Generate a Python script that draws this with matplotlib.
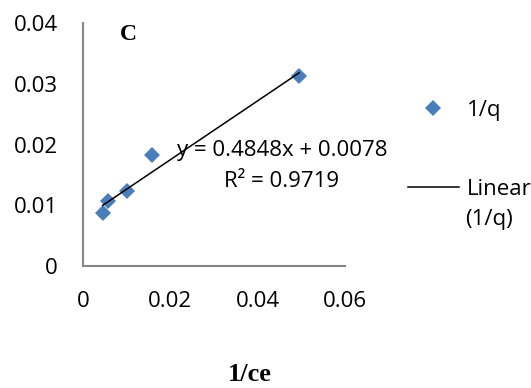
import matplotlib.pyplot as plt
from matplotlib.lines import Line2D

# Langmuir-type plot: 1/q against 1/ce
inv_ce = [0.0045, 0.0058, 0.0100, 0.0159, 0.0495]
inv_q = [0.0088, 0.0107, 0.0123, 0.0183, 0.0313]

# Excel trendline as printed on the chart
slope = 0.4848
intercept = 0.0078
r2 = 0.9719

x_ticks = [0, 0.02, 0.04, 0.06]
y_ticks = [0, 0.01, 0.02, 0.03, 0.04]

blue = "#4A7EBB"
grey = "#868686"
sans = "Open Sans"
fs = 16

fig = plt.figure(figsize=(5.31, 3.88), dpi=100)
ax = fig.add_axes([0.1563, 0.3144, 0.4934, 0.6263])

ax.plot(inv_ce, inv_q, linestyle="none", marker="D", markersize=8.5,
        markeredgewidth=0, color=blue)

x0, x1 = min(inv_ce), max(inv_ce)
ax.plot([x0, x1], [slope * x0 + intercept, slope * x1 + intercept],
        color="black", linewidth=1.1)

ax.set_xlim(0, 0.06)
ax.set_ylim(0, 0.04)
ax.set_xticks(x_ticks)
ax.set_yticks(y_ticks)
ax.set_xticklabels(["%g" % t for t in x_ticks], fontfamily=sans, fontsize=fs)
ax.set_yticklabels(["%g" % t for t in y_ticks], fontfamily=sans, fontsize=fs)
ax.tick_params(axis="x", length=0, pad=18)
ax.tick_params(axis="y", length=0, pad=18)

for side in ["top", "right"]:
    ax.spines[side].set_visible(False)
for side in ["left", "bottom"]:
    ax.spines[side].set_color(grey)
    ax.spines[side].set_linewidth(1.5)

ax.set_xlabel("1/ce", fontfamily="Liberation Serif", fontweight="bold",
              fontsize=19, va="center")
ax.xaxis.set_label_coords(0.637, -0.445)

fig.text(0.241, 0.912, "C", fontfamily="Liberation Serif", fontweight="bold",
         fontsize=17, ha="center", va="center")

fig.text(0.531, 0.611, "y = %.4fx + %.4f" % (slope, intercept),
         fontfamily=sans, fontsize=fs, ha="center", va="center")
fig.text(0.531, 0.531, "R² = %.4f" % r2,
         fontfamily=sans, fontsize=fs, ha="center", va="center")

handles = [
    Line2D([], [], linestyle="none", marker="D", markersize=8.5,
           markeredgewidth=0, color=blue),
    Line2D([], [], color="black", linewidth=1.1),
]
fig.legend(handles, ["1/q", "Linear"], loc="upper left",
           bbox_to_anchor=(0.768, 0.742), bbox_transform=fig.transFigure,
           frameon=False, borderpad=0, borderaxespad=0, handlelength=2.3,
           handletextpad=0.35, labelspacing=2.6, numpoints=1,
           prop={"family": sans, "size": fs})
fig.text(0.876, 0.433, "(1/q)", fontfamily=sans, fontsize=fs,
         ha="left", va="center")

fig.savefig("out.png", dpi=100)
